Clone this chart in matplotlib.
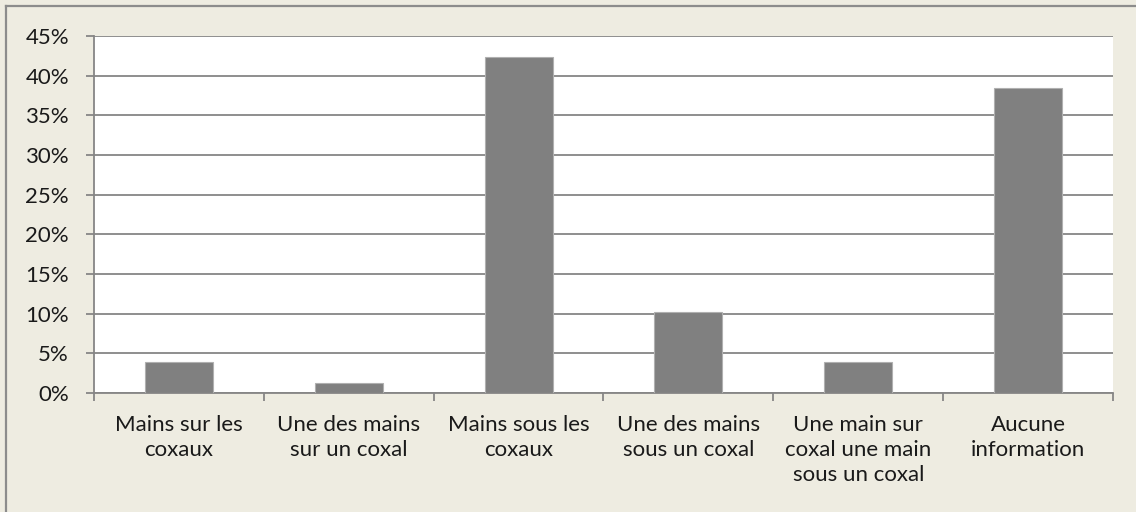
import matplotlib.pyplot as plt
from matplotlib.lines import Line2D
from matplotlib.ticker import FixedLocator, FuncFormatter

# Répartition des positions des mains (part des cas)
categories = [
    'Mains sur les\ncoxaux',
    'Une des mains\nsur un coxal',
    'Mains sous les\ncoxaux',
    'Une des mains\nsous un coxal',
    'Une main sur\ncoxal une main\nsous un coxal',
    'Aucune\ninformation',
]
values = [3.85, 1.28, 42.31, 10.26, 3.85, 38.46]
y_ticks = [0, 5, 10, 15, 20, 25, 30, 35, 40, 45]

bg = '#eeece1'
grid_col = '#868686'

plt.rcParams['font.family'] = ['Lato', 'DejaVu Sans']

fig = plt.figure(figsize=(11.36, 5.12), dpi=100, facecolor=bg)
ax = fig.add_axes([94 / 1136, 1 - 393 / 512, (1113 - 94) / 1136, (393 - 36) / 512])
ax.set_facecolor('white')

x = list(range(len(categories)))
ax.bar(x, values, width=0.4, color='#808080', edgecolor='#b0b0b0', linewidth=0.8, zorder=3)

ax.set_xlim(-0.5, len(categories) - 0.5)
ax.set_ylim(0, 45)
ax.yaxis.set_major_locator(FixedLocator(y_ticks))
ax.yaxis.set_major_formatter(FuncFormatter(lambda v, p: f'{v:.0f}%'))
ax.grid(axis='y', color=grid_col, linewidth=1.3, zorder=0)

for s in ['top', 'right']:
    ax.spines[s].set_visible(False)
for s in ['left', 'bottom']:
    ax.spines[s].set_color(grid_col)
    ax.spines[s].set_linewidth(1.3)

ax.tick_params(axis='y', length=6, width=1.3, color=grid_col, labelsize=16, pad=12,
               labelcolor='#1a1a1a')
ax.set_yticks(y_ticks)

# étiquettes centrées, traits aux limites des catégories
ax.set_xticks(x)
ax.set_xticklabels(categories, fontsize=16, linespacing=1.32, va='top', color='#1a1a1a')
ax.tick_params(axis='x', length=0, pad=16)
ax.set_xticks([i - 0.5 for i in range(len(categories) + 1)], minor=True)
ax.tick_params(axis='x', which='minor', length=6, width=1.3, color=grid_col)

# cadre du graphique
fig.add_artist(Line2D([6 / 1136, 6 / 1136], [0, 1 - 6 / 512], color='#8c8c8c', linewidth=1.6))
fig.add_artist(Line2D([6 / 1136, 1], [1 - 6 / 512, 1 - 6 / 512], color='#8c8c8c', linewidth=1.6))

fig.savefig('out.png', dpi=100, facecolor=bg)
